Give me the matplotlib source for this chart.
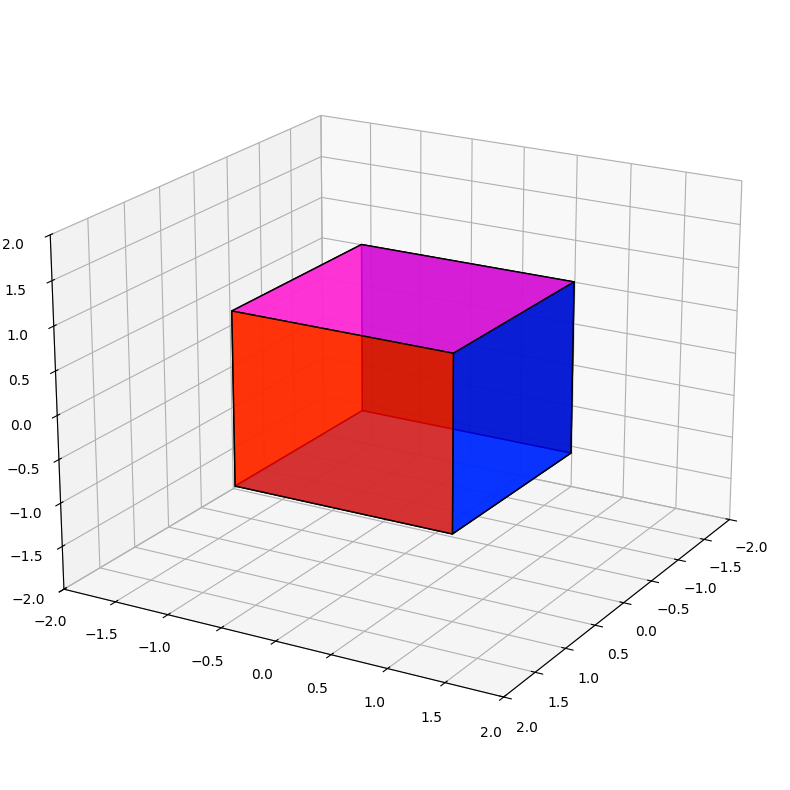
import matplotlib
matplotlib.use("Agg")
import matplotlib.pyplot as plt
from mpl_toolkits.mplot3d.art3d import Poly3DCollection

# cube corners
xs = [-1, 1]
ys = [-1, 1]
zs = [-1, 1]
face_colors = ['red', 'blue', 'green', 'yellow', 'magenta', 'cyan']
lims = (-2, 2)

x0, x1 = xs
y0, y1 = ys
z0, z1 = zs
faces = [
    [(x1, y0, z0), (x1, y1, z0), (x1, y1, z1), (x1, y0, z1)],  # front
    [(x0, y1, z0), (x1, y1, z0), (x1, y1, z1), (x0, y1, z1)],  # right
    [(x0, y0, z0), (x0, y1, z0), (x0, y1, z1), (x0, y0, z1)],  # back
    [(x0, y0, z0), (x1, y0, z0), (x1, y0, z1), (x0, y0, z1)],  # left
    [(x0, y0, z1), (x1, y0, z1), (x1, y1, z1), (x0, y1, z1)],  # top
    [(x0, y0, z0), (x1, y0, z0), (x1, y1, z0), (x0, y1, z0)],  # bottom
]

fig = plt.figure(figsize=(7.9, 7.9), dpi=100)
ax = fig.add_axes([0.115, 0.119, 0.775, 0.77], projection='3d')
ax.add_collection3d(Poly3DCollection(faces, facecolors=face_colors, edgecolors='k', linewidths=1, alpha=0.8))
ax.set_xlim(*lims)
ax.set_ylim(*lims)
ax.set_zlim(*lims)
ax.view_init(elev=20, azim=30)
ax.set_box_aspect((4, 4, 2.97), zoom=1.265)
fig.savefig('out.png', dpi=100)
